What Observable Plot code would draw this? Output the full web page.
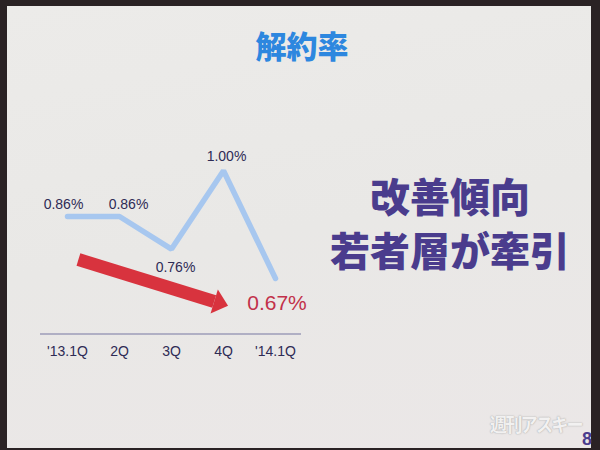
<!DOCTYPE html>
<html><head><meta charset="utf-8">
<script src="https://cdn.jsdelivr.net/npm/d3@7"></script>
<script src="https://cdn.jsdelivr.net/npm/@observablehq/plot@0.6"></script>
<style>
html,body{margin:0;padding:0;background:#2a2224;}
#wrap{position:relative;width:600px;height:450px;overflow:hidden;background:#2a2224;font-family:"Liberation Sans",Arial,sans-serif;}
#slide{position:absolute;left:7px;top:6px;width:584px;height:442px;background:linear-gradient(170deg,#ecebe9 0%,#e9e8e6 50%,#ebe7e7 100%);}
#title{position:absolute;left:0;width:604px;top:26px;text-align:center;font-family:"Noto Sans CJK JP",sans-serif;font-weight:900;font-size:31px;line-height:38px;color:#2d87df;}
.msg{position:absolute;left:300px;width:300px;text-align:center;font-family:"Noto Sans CJK JP",sans-serif;font-weight:900;font-size:40px;line-height:46px;color:#4a3c8d;}
#wm{position:absolute;left:490px;top:410px;font-family:"Noto Sans CJK JP",sans-serif;font-weight:700;font-size:19px;color:#f2f1f1;letter-spacing:-2px;text-shadow:0 0 1px #aaa,0 0 2px #bbb;transform:scaleX(0.9);transform-origin:left;}
#pg{position:absolute;left:582px;top:429px;font-family:"Liberation Sans",Arial,sans-serif;font-weight:700;font-size:18px;color:#4a3c8d;}
#plot{position:absolute;left:0;top:0;}
</style></head>
<body>
<div id="wrap">
  <div id="slide"></div>
  <div id="title">解約率</div>
  <div class="msg" style="top:172px">改善傾向</div>
  <div class="msg" style="top:226px">若者層が牽引</div>
  <div id="plot"></div>
  <div id="wm">週刊アスキー</div>
  <div id="pg">8</div>
</div>
<script>
const quarters = ["'13.1Q", "2Q", "3Q", "4Q", "'14.1Q"];
const rates = [0.86, 0.86, 0.76, 1.00, 0.67];
const rateLabels = ["0.86%", "0.86%", "0.76%", "1.00%", "0.67%"];
// trend arrow annotation (x in quarter index, y in %)
const arrowFrom = {i: 0.21, v: 0.728};
const arrowTo = {i: 2.821, v: 0.5995};

const data = rates.map((v, i) => ({i, v, q: quarters[i], label: rateLabels[i]}));
const font = {fontFamily: "Liberation Sans, Arial, sans-serif"};
const labelStyle = {fill: "#2e2b55", fontSize: 14, ...font};

// arrow head: flattened triangle, base centred on origin, pointing up
const arrowHead = {
  draw(context, size) {
    const r = Math.sqrt(size / Math.PI);
    const L = 1.45 * r, W = 2.5 * r;
    context.moveTo(0, -L);
    context.lineTo(W / 2, 0);
    context.lineTo(-W / 2, 0);
    context.closePath();
  }
};

const chart = Plot.plot({
  width: 600, height: 450,
  marginLeft: 40, marginRight: 299, marginTop: 154, marginBottom: 116.6,
  insetLeft: 27, insetRight: 26,
  style: {background: "transparent", overflow: "visible"},
  x: {domain: [0, 4]},
  y: {domain: [0.5, 1.05], axis: null},
  marks: [
    Plot.ruleY([0.5], {stroke: "#9d9cb8", strokeWidth: 1.5}),
    Plot.axisX({ticks: [0,1,2,3,4], tickFormat: i => quarters[i], tickSize: 0, tickPadding: 12.6,
      fontSize: 14, fill: "#2e2b55", ...font, label: null}),
    Plot.line(data, {x: "i", y: "v", stroke: "#a7c7ef", strokeWidth: 5.5, strokeLinecap: "round", strokeLinejoin: "miter"}),
    Plot.link([{a: arrowFrom, b: arrowTo}], {x1: d => d.a.i, y1: d => d.a.v, x2: d => d.b.i, y2: d => d.b.v,
      stroke: "#d8333e", strokeWidth: 13, strokeLinecap: "butt"}),
    Plot.dot([arrowTo], {x: "i", y: "v", symbol: arrowHead, r: 10, rotate: 107, fill: "#d8333e", stroke: "none"}),
    Plot.text(data.filter(d => d.i === 0), {x: "i", y: "v", text: "label", dx: -4, dy: -12, ...labelStyle}),
    Plot.text(data.filter(d => d.i === 1), {x: "i", y: "v", text: "label", dx: 9, dy: -12, ...labelStyle}),
    Plot.text(data.filter(d => d.i === 2), {x: "i", y: "v", text: "label", dx: 4, dy: 18, ...labelStyle}),
    Plot.text(data.filter(d => d.i === 3), {x: "i", y: "v", text: "label", dx: 3, dy: -14, ...labelStyle}),
    Plot.text(data.filter(d => d.i === 4), {x: "i", y: "v", text: "label", dx: 1.5, dy: 24.5, fill: "#c2314a", fontSize: 21, ...font})
  ]
});
document.getElementById("plot").appendChild(chart);
</script>
</body></html>
